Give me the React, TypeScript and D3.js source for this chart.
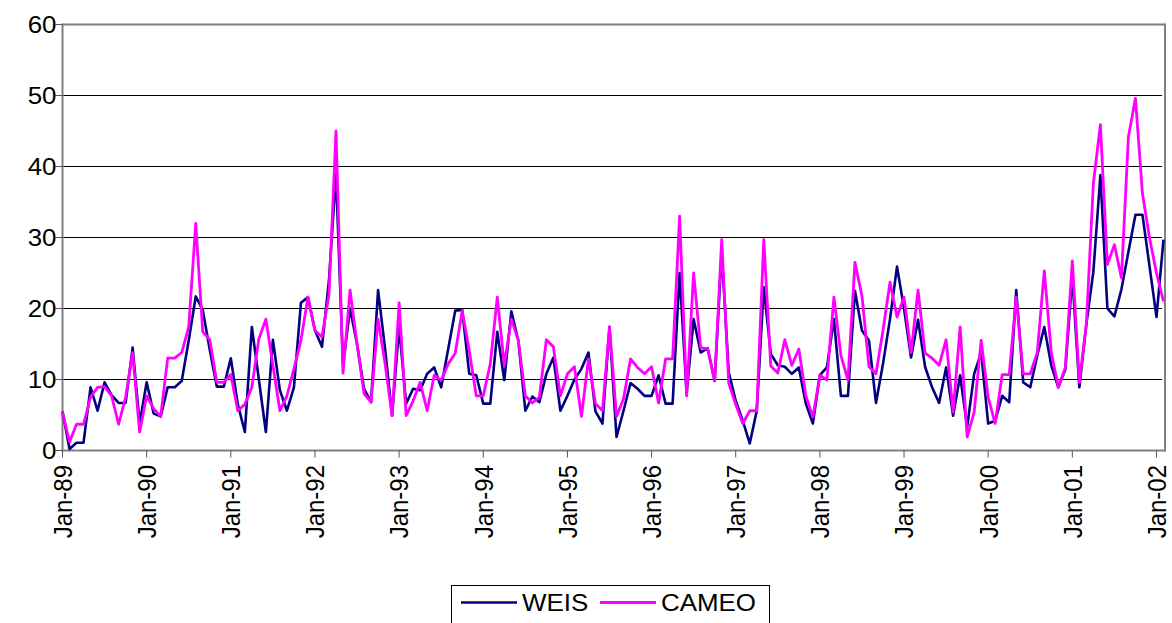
import React from "react";
import * as d3 from "d3";

const WEIS: number[] = [
  5.5, 0.2, 1.1, 1.1, 8.9, 5.6, 9.6, 7.8, 6.7, 6.7,
  14.5, 3.8, 9.6, 5.2, 4.8, 8.9, 8.9, 9.8, 15.5, 21.7,
  19.8, 14.2, 9, 9, 13, 6.5, 2.6, 17.4, 10, 2.6,
  15.6, 8.5, 5.6, 8.9, 20.8, 21.6, 16.9, 14.6, 24, 39,
  12, 20, 15, 8.7, 6.8, 22.6, 14.3, 4.9, 17.4, 6.6,
  8.7, 8.5, 10.8, 11.7, 8.9, 14.3, 19.7, 19.8, 10.8, 10.6,
  6.6, 6.6, 16.7, 9.9, 19.6, 15.5, 5.6, 7.6, 6.8, 10.8,
  13.1, 5.6, 7.7, 10, 11.5, 13.8, 5.5, 3.8, 17.4, 1.9,
  5.6, 9.5, 8.7, 7.7, 7.7, 10.6, 6.6, 6.6, 25, 8,
  18.5, 13.8, 14.4, 9.8, 28, 11, 7, 4.2, 1, 5.6,
  23, 13.6, 12, 11.8, 10.8, 11.7, 6.6, 3.8, 10.6, 11.7,
  18.5, 7.7, 7.7, 22.5, 16.9, 15.5, 6.7, 12.2, 18.5, 25.9,
  20, 13.1, 18.4, 11.8, 8.9, 6.7, 11.7, 4.9, 10.6, 3.3,
  10.8, 13.8, 3.8, 4.2, 7.7, 6.8, 22.6, 9.6, 8.9, 13.4,
  17.4, 12, 8.9, 11.4, 24.5, 8.9, 17.8, 25.2, 38.8, 20,
  18.9, 22.7, 28, 33.2, 33.2, 26, 18.8, 29.7,
];

const CAMEO: number[] = [
  5.4, 1.2, 3.7, 3.7, 7.5, 8.9, 9, 7.7, 3.7, 7.5,
  13.8, 2.6, 7.7, 5.9, 4.8, 13, 13, 13.8, 17.4, 32,
  16.7, 15.6, 9.6, 9.6, 10.7, 5.6, 6.5, 8.9, 15.7, 18.5,
  12, 5.6, 7.7, 11.5, 15.5, 21.6, 16.9, 16, 22, 45,
  10.9, 22.6, 15, 8, 6.8, 18.5, 12.2, 4.9, 20.8, 4.9,
  7, 9.6, 5.6, 10.6, 9.9, 12.2, 13.7, 19.7, 14.1, 7.7,
  7.7, 12.2, 21.6, 12, 18.5, 15.5, 7.7, 6.7, 7.5, 15.6,
  14.6, 7.7, 10.8, 11.8, 4.8, 12.9, 6.6, 5.6, 17.4, 4.8,
  7.3, 12.9, 11.7, 10.8, 11.8, 6.7, 12.9, 12.9, 33, 7.7,
  25, 14.5, 14.3, 9.8, 29.7, 9.5, 6.5, 3.8, 5.6, 5.6,
  29.7, 11.9, 10.9, 15.6, 12, 14.3, 7.7, 4.7, 10.6, 9.9,
  21.6, 13.4, 9.9, 26.5, 21.8, 11.8, 10.8, 16.9, 23.7, 18.8,
  21.6, 13.8, 22.6, 13.7, 13, 12, 15.6, 5.4, 17.4, 1.9,
  5.4, 15.5, 7.5, 3.8, 10.7, 10.7, 21.6, 10.8, 10.8, 13.8,
  25.3, 13.8, 8.9, 11.7, 26.7, 9.6, 17.8, 37.6, 45.9, 26.2,
  29, 24.3, 44.2, 49.6, 36.2, 30, 25, 21,
];

const X_TICK_LABELS: string[] = [
  "Jan-89", "Jan-90", "Jan-91", "Jan-92", "Jan-93", "Jan-94", "Jan-95",
  "Jan-96", "Jan-97", "Jan-98", "Jan-99", "Jan-00", "Jan-01", "Jan-02",
];
const Y_TICKS: number[] = [0, 10, 20, 30, 40, 50, 60];
const SERIES_NAMES: string[] = ["WEIS", "CAMEO"];

const FONT = "'Liberation Sans', Arial, sans-serif";
const NAVY = "#000080";
const MAGENTA = "#FF00FF";
const SX = 1.08;
const FS = 24;

export default function App() {
  const W = 1172;
  const H = 623;
  const left = 62.5;
  const right = 1163.5;
  const top = 24.5;
  const bottom = 450.5;

  const x = d3.scaleLinear().domain([0, WEIS.length - 1]).range([left, right]);
  const y = d3.scaleLinear().domain([0, 60]).range([bottom, top]);

  const line = d3
    .line<number>()
    .x((_, i) => x(i))
    .y((d) => y(d));

  const xTickIdx = X_TICK_LABELS.map((_, k) => k * 12);

  return (
    <svg
      width={W}
      height={H}
      style={{ position: "absolute", left: 0, top: 0, background: "#fff" }}
      fontFamily={FONT}
    >
      {Y_TICKS.filter((v) => v > 0 && v < 60).map((v) => (
        <line key={v} x1={left} x2={1162} y1={y(v)} y2={y(v)} stroke="#000" strokeWidth={1} />
      ))}
      <line x1={left} x2={1165} y1={top} y2={top} stroke="#808080" strokeWidth={2} />
      <line x1={1165} x2={1165} y1={top - 1} y2={bottom + 1} stroke="#808080" strokeWidth={2} />
      <line x1={left} x2={left} y1={top - 1} y2={bottom + 1} stroke="#808080" strokeWidth={2} />
      <line x1={left - 1} x2={1166} y1={bottom} y2={bottom} stroke="#808080" strokeWidth={2} />

      {Y_TICKS.map((v) => (
        <g key={v}>
          <line x1={left - 7} x2={left} y1={y(v)} y2={y(v)} stroke="#555" strokeWidth={1} />
          <text
            transform={`translate(${left - 6},${y(v)}) scale(${SX},1)`}
            textAnchor="end"
            dy="0.36em"
            fontSize={FS}
            fill="#000"
          >
            {v}
          </text>
        </g>
      ))}

      {xTickIdx.map((i, k) => (
        <g key={i}>
          <line x1={x(i)} x2={x(i)} y1={bottom} y2={bottom + 7} stroke="#555" strokeWidth={1} />
          <g transform={`translate(${x(i)},${465}) scale(${SX},1) rotate(-90)`}>
            <text textAnchor="end" dy="0.36em" fontSize={FS} fill="#000">
              {X_TICK_LABELS[k]}
            </text>
          </g>
        </g>
      ))}

      <path d={line(WEIS) || ""} fill="none" stroke={NAVY} strokeWidth={2.6} strokeLinejoin="round" />
      <path d={line(CAMEO) || ""} fill="none" stroke={MAGENTA} strokeWidth={2.8} strokeLinejoin="round" />

      <rect x={451.5} y={585.5} width={318} height={60} fill="#fff" stroke="#000" strokeWidth={1} />
      <line x1={461} x2={517} y1={602.5} y2={602.5} stroke={NAVY} strokeWidth={2.6} />
      <text transform={`translate(522,611) scale(${SX},1)`} fontSize={FS} fill="#000">
        {SERIES_NAMES[0]}
      </text>
      <line x1={600} x2={656} y1={602.5} y2={602.5} stroke={MAGENTA} strokeWidth={2.8} />
      <text transform={`translate(661,611) scale(${SX},1)`} fontSize={FS} fill="#000">
        {SERIES_NAMES[1]}
      </text>
    </svg>
  );
}
